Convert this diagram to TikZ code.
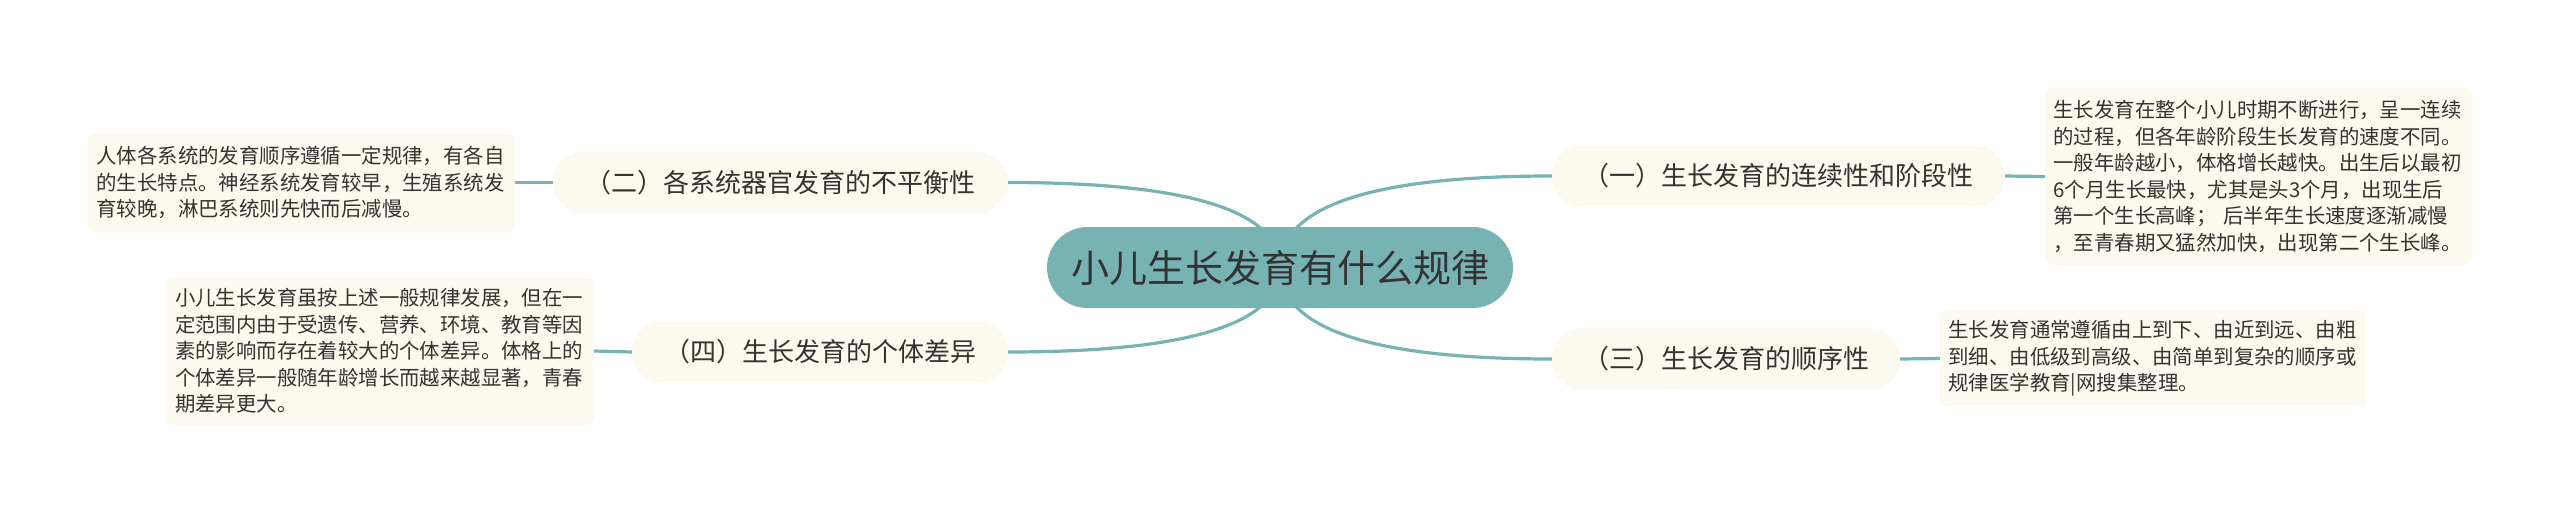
\documentclass[tikz,border=0pt]{standalone}
\usepackage{fontspec}
\setmainfont{Noto Sans CJK SC}
\usetikzlibrary{calc,backgrounds}
\definecolor{teal0}{HTML}{78B3B4}
\definecolor{cream}{HTML}{FCF9EF}
\definecolor{ink}{HTML}{333333}
\begin{document}
\begin{tikzpicture}[x=1pt,y=-1pt,
  rootbox/.style={fill=teal0, rounded corners=40.5pt, minimum width=466pt, minimum height=81pt, inner sep=0pt, text=ink, font=\fontsize{38}{46}\selectfont},
  branchbox/.style={fill=cream, rounded corners=31pt, minimum height=62pt, inner sep=0pt, text=ink, font=\fontsize{26}{32}\selectfont},
  leafbox/.style={fill=cream, rounded corners=8pt, inner xsep=8.5pt, inner ysep=0pt, text width=410pt, align=left, text=ink, font=\fontsize{20.4}{26.5}\selectfont},
  link/.style={draw=teal0, line width=3.2pt}
]
\useasboundingbox (0,0) rectangle (2560,515);

\node[rootbox] (root) at (1280,267.5) {小儿生长发育有什么规律};

\node[branchbox, minimum width=453pt] (b1) at (1778.5,176) {（一）生长发育的连续性和阶段性};
\node[branchbox, minimum width=348pt] (b3) at (1726,359) {（三）生长发育的顺序性};
\node[branchbox, minimum width=455pt] (b2) at (780.5,182.5) {（二）各系统器官发育的不平衡性};
\node[branchbox, minimum width=376pt] (b4) at (820,352) {（四）生长发育的个体差异};

\node[leafbox, minimum height=177pt] (l1) at (2258.5,176.5) {生长发育在整个小儿时期不断进行，呈一连续\\的过程，但各年龄阶段生长发育的速度不同。\\一般年龄越小，体格增长越快。出生后以最初\\6个月生长最快，尤其是头3个月，出现生后\\第一个生长高峰； 后半年生长速度逐渐减慢\\，至青春期又猛然加快，出现第二个生长峰。};
\node[leafbox, minimum height=97pt] (l3) at (2153.5,358.5) {生长发育通常遵循由上到下、由近到远、由粗\\到细、由低级到高级、由简单到复杂的顺序或\\规律医学教育|网搜集整理。};
\node[leafbox, minimum height=99pt] (l2) at (301.5,182.5) {人体各系统的发育顺序遵循一定规律，有各自\\的生长特点。神经系统发育较早，生殖系统发\\育较晚，淋巴系统则先快而后减慢。};
\node[leafbox, minimum height=148pt] (l4) at (380,351) {小儿生长发育虽按上述一般规律发展，但在一\\定范围内由于受遗传、营养、环境、教育等因\\素的影响而存在着较大的个体差异。体格上的\\个体差异一般随年龄增长而越来越显著，青春\\期差异更大。};

\begin{pgfonlayer}{background}
  \fill[white] (0,0) rectangle (2560,515);
  \coordinate (c1) at (root.center |- b1.west);
  \coordinate (c2) at (root.center |- b2.east);
  \coordinate (c3) at (root.center |- b3.west);
  \coordinate (c4) at (root.center |- b4.east);
  \draw[link] (root.center) .. controls ($(root.center)!2/3!(c1)$) and ($(b1.west)!2/3!(c1)$) .. (b1.west);
  \draw[link] (root.center) .. controls ($(root.center)!2/3!(c2)$) and ($(b2.east)!2/3!(c2)$) .. (b2.east);
  \draw[link] (root.center) .. controls ($(root.center)!2/3!(c3)$) and ($(b3.west)!2/3!(c3)$) .. (b3.west);
  \draw[link] (root.center) .. controls ($(root.center)!2/3!(c4)$) and ($(b4.east)!2/3!(c4)$) .. (b4.east);
  \draw[link] (b1.east) -- (l1.west);
  \draw[link] (b3.east) -- (l3.west);
  \draw[link] (b2.west) -- (l2.east);
  \draw[link] (b4.west) -- (l4.east);
\end{pgfonlayer}
\end{tikzpicture}
\end{document}
